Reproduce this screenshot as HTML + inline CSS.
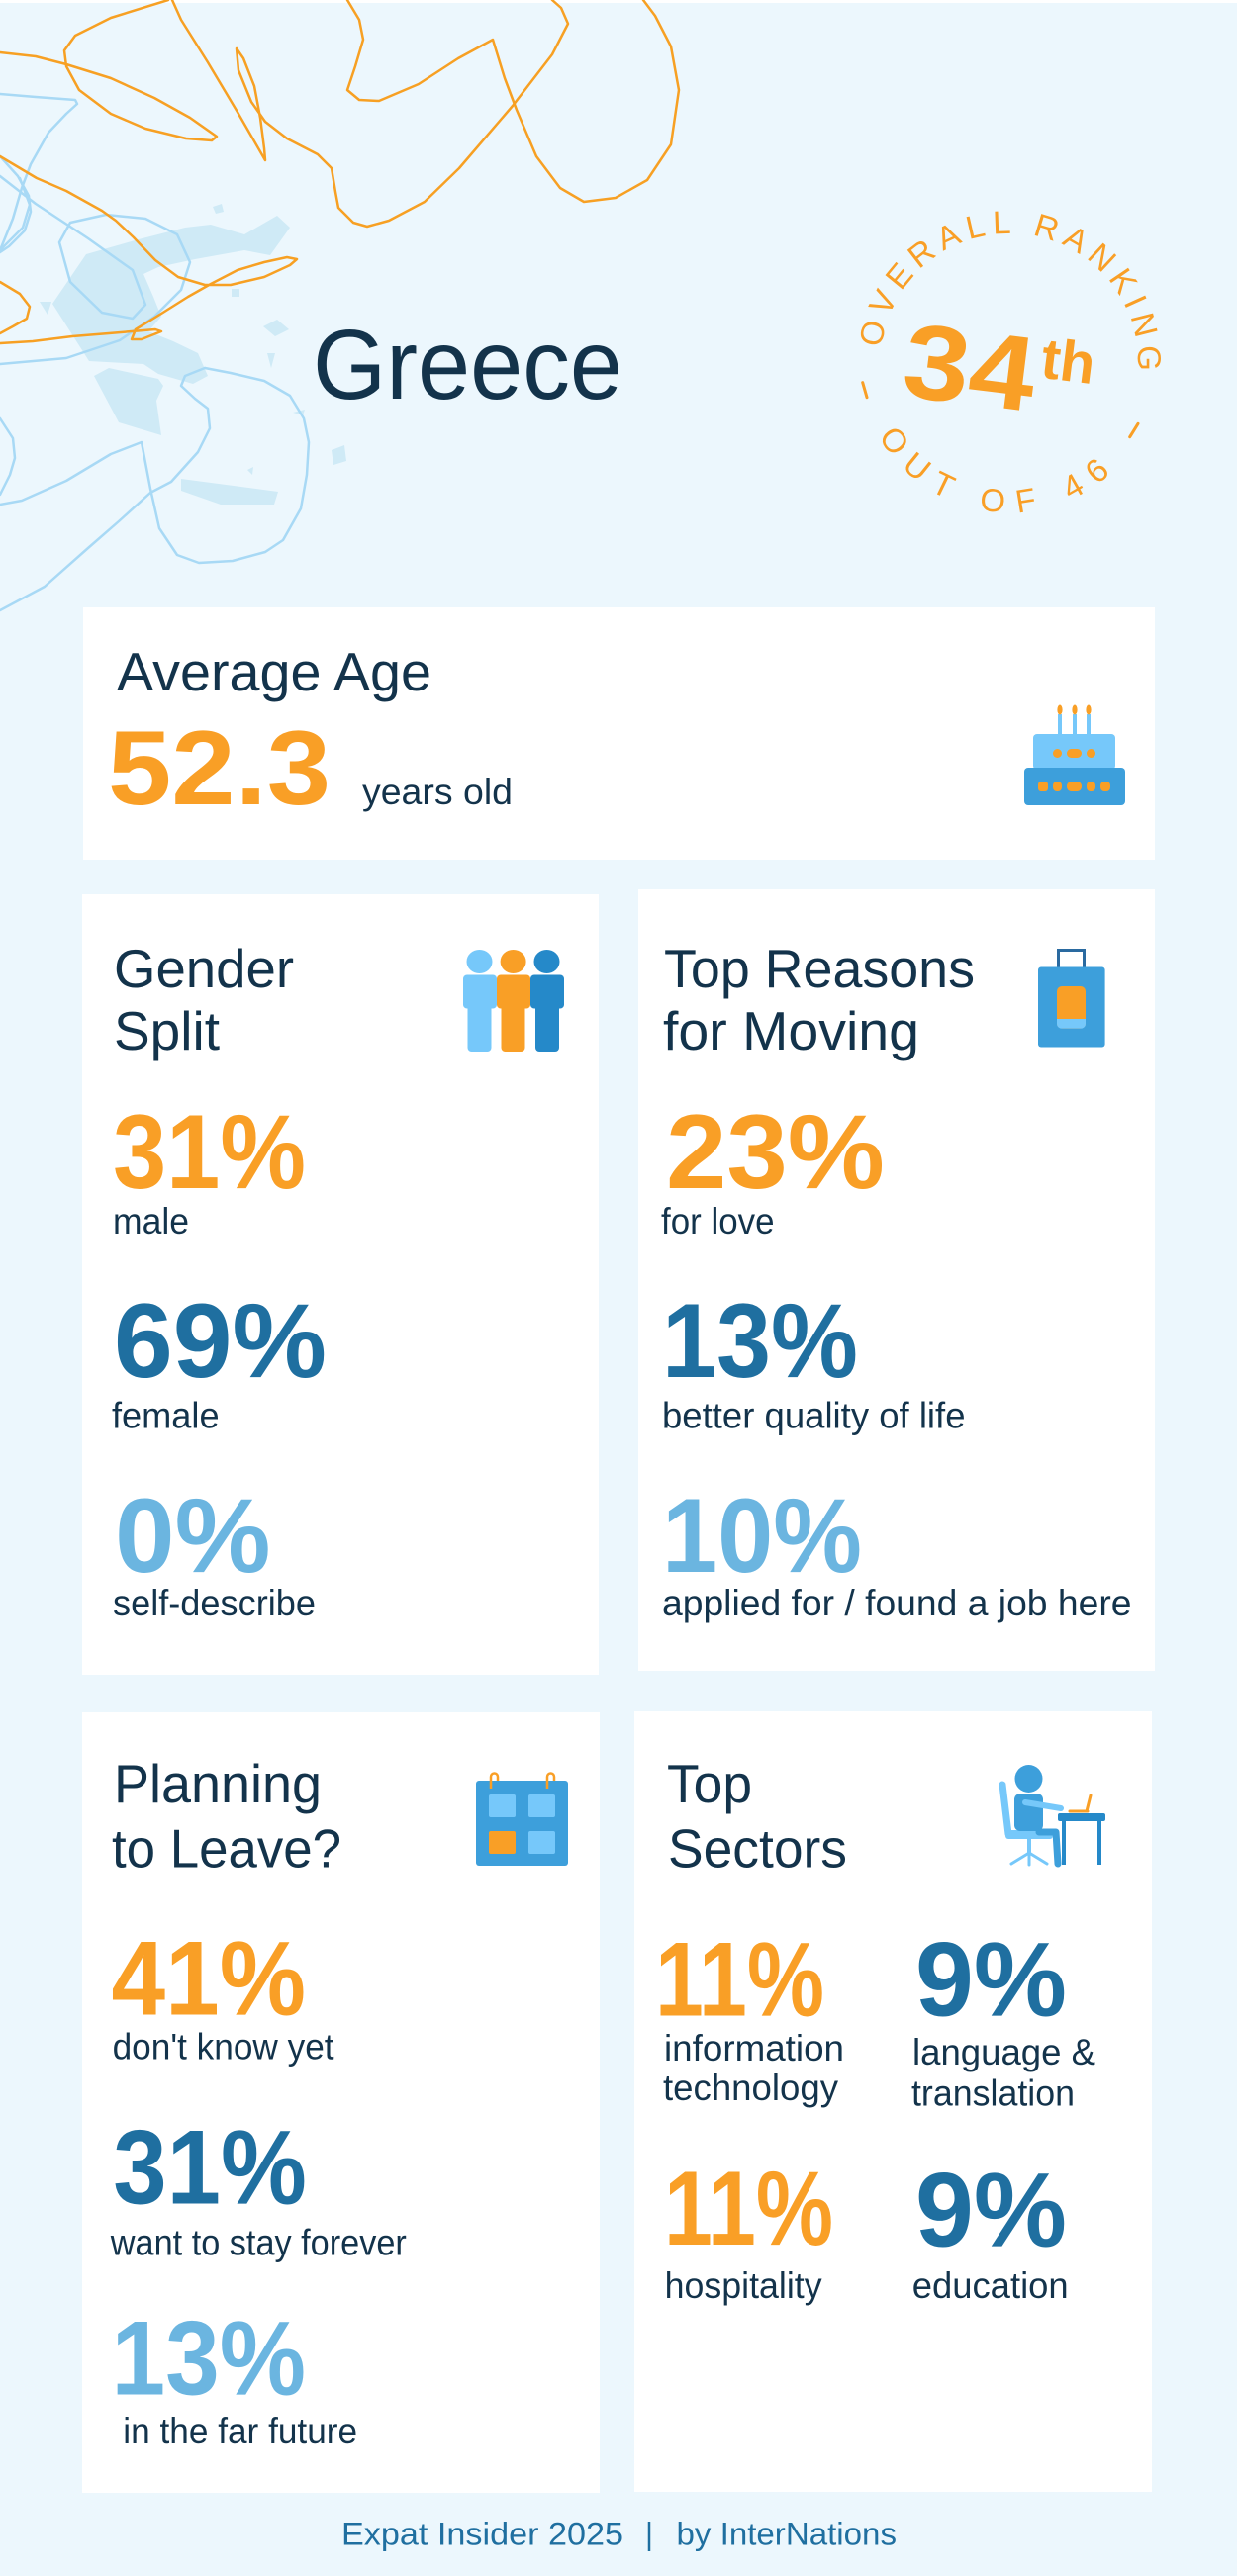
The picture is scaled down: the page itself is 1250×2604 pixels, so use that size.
<!DOCTYPE html>
<html>
<head>
<meta charset="utf-8">
<style>
  html, body { margin:0; padding:0; background:#ecf7fd; }
  body { width:1250px; height:2604px; overflow:hidden; }
  svg { display:block; }
  text { font-family:"Liberation Sans", sans-serif; }
</style>
</head>
<body>
<svg width="1250" height="2604" viewBox="0 0 1250 2604" xmlns="http://www.w3.org/2000/svg">
  <defs>
    <path id="topArc" d="M890,366 A130,130 0 0 1 1150,366"/>
    <path id="botArc" d="M868,366 A152,152 0 0 0 1172,366"/>
  </defs>

  <!-- background -->
  <rect x="0" y="0" width="1250" height="2604" fill="#ecf7fd"/>
  <rect x="0" y="0" width="1250" height="3" fill="#ffffff"/>

  <!-- map of Greece (light) -->
  <g fill="#cfeaf6">
    <polygon points="53,307 87,257 140,242 187,230 213,227 247,237 280,218 293,230 273,258 247,253 197,262 160,270 145,277 155,300 163,320 150,335 175,345 200,357 210,380 195,388 160,378 145,368 90,365"/>
    <polygon points="95,380 110,372 160,383 165,390 158,405 163,440 120,427"/>
    <polygon points="183,484 281,497 277,510 223,510 183,496"/>
    <polygon points="266,330 280,323 292,333 278,340"/>
    <polygon points="335,455 348,450 350,466 337,470"/>
    <polygon points="234,292 242,292 242,300 234,300"/>
    <polygon points="40,305 52,305 48,318"/>
    <polygon points="270,357 278,357 274,372"/>
    <polygon points="215,209 224,206 226,214 218,216"/>
    <polygon points="296,417 308,414 306,420"/>
    <polygon points="250,475 256,472 255,480"/>
  </g>

  <!-- decorative curves -->
  <g fill="none" stroke-linejoin="round" stroke-linecap="round" stroke-width="2.5">
    <g stroke="#a8d9f5">
      <path d="M0,95 L36,98 L76,101 L78,105 L67,115 L49,134 L31,166 L22,190 L13,221 L0,253"/>
      <path d="M0,158 L18,178 L29,198 L31,214 L25,233 L9,249 L0,255"/>
      <path d="M20,180 L30,207 L23,230 L0,253"/>
      <path d="M0,178 L36,206 L89,241 L134,273 L147,308 L134,322 L103,316 L71,285 L60,245 L71,225 L107,217 L147,221 L179,237 L192,265 L183,293 L156,320 L121,344 L67,362 L0,368"/>
      <path d="M207,372 L187,380 L183,390 L197,403 L210,413 L212,433 L200,457 L173,487 L152,498 L120,527 L89,554 L45,593 L0,617"/>
      <path d="M207,372 L233,377 L267,385 L293,400 L307,423 L312,447 L310,480 L304,514 L286,546 L268,558 L235,567 L201,569 L179,561 L161,534 L152,494 L143,447 L112,459 L67,486 L22,506 L0,510"/>
      <path d="M0,423 L13,443 L15,463 L10,480 L0,500"/>
    </g>
    <g stroke="#f7a023">
      <path d="M0,53 L36,57 L67,65 L112,79 L156,99 L192,119 L219,138 L214,142 L188,140 L147,130 L112,115 L80,91 L67,67 L65,51 L76,36 L112,18 L170,0"/>
      <path d="M174,0 L183,20 L210,63 L241,115 L268,162 L267,150 L263,119 L257,87 L246,59 L239,49 L241,71 L254,103 L268,123 L290,140 L321,156 L335,170 L339,194 L342,210 L357,225 L371,229 L393,223 L429,204 L464,170 L518,107 L558,55 L574,24 L567,8 L558,0"/>
      <path d="M351,0 L363,20 L367,40 L359,67 L351,91 L363,101 L383,102 L423,85 L463,59 L498,40 L510,79 L522,111 L542,158 L566,190 L590,204 L622,200 L654,182 L678,146 L686,91 L678,47 L662,16 L650,0"/>
      <path d="M0,158 L37,180 L67,193 L103,213 L117,223 L135,240 L157,263 L180,280 L207,288 L233,288 L267,280 L293,268 L300,262 L290,260 L267,265 L240,273 L213,287 L190,300 L163,317 L137,333 L133,343 L143,343 L163,335 L157,333 L110,337 L73,340 L33,345 L0,347"/>
      <path d="M0,285 L20,297 L30,310 L27,322 L13,330 L0,337"/>
    </g>
  </g>

  <!-- title -->
  <text x="316" y="403" font-size="100" fill="#13334b" textLength="313" lengthAdjust="spacingAndGlyphs">Greece</text>

  <!-- ranking badge -->
  <g fill="#f99f26">
    <g transform="rotate(6.5 1020 366)">
      <text font-size="33" style="letter-spacing:6.6px" text-anchor="middle"><textPath href="#topArc" startOffset="50%">OVERALL RANKING</textPath></text>
      <text font-size="33" style="letter-spacing:12.8px" text-anchor="middle"><textPath href="#botArc" startOffset="50%">OUT OF 46</textPath></text>
    </g>
    <g transform="rotate(7 1020 366)">
      <text x="914.5" y="413" font-size="107" font-weight="bold" textLength="133" lengthAdjust="spacingAndGlyphs">34</text>
      <text x="1052" y="377.7" font-size="58" font-weight="bold" textLength="54" lengthAdjust="spacingAndGlyphs">th</text>
    </g>
  </g>
  <g stroke="#f99f26" stroke-width="3" stroke-linecap="round">
    <line x1="871.7" y1="386.7" x2="876" y2="401.7"/>
    <line x1="1150" y1="428.3" x2="1141.7" y2="441.7"/>
  </g>

  <!-- cards -->
  <g fill="#ffffff">
    <rect x="84" y="614" width="1083" height="255"/>
    <rect x="83" y="904" width="522" height="789"/>
    <rect x="645" y="899" width="522" height="790"/>
    <rect x="83" y="1731" width="523" height="789"/>
    <rect x="641" y="1730" width="523" height="789"/>
  </g>

  <!-- Average age card -->
  <text x="118" y="698" font-size="55" fill="#13334b" textLength="318" lengthAdjust="spacingAndGlyphs">Average Age</text>
  <text x="109" y="813" font-size="107" font-weight="bold" fill="#f99f26" textLength="225" lengthAdjust="spacingAndGlyphs">52.3</text>
  <text x="366" y="813" font-size="37" fill="#13334b" textLength="152" lengthAdjust="spacingAndGlyphs">years old</text>
  <!-- cake icon -->
  <g>
    <rect x="1069" y="722" width="4" height="21" fill="#76c8fa"/>
    <rect x="1084" y="722" width="4" height="21" fill="#76c8fa"/>
    <rect x="1098" y="722" width="4" height="21" fill="#76c8fa"/>
    <ellipse cx="1071" cy="717.5" rx="2.6" ry="5" fill="#f99f26"/>
    <ellipse cx="1086" cy="717.5" rx="2.6" ry="5" fill="#f99f26"/>
    <ellipse cx="1100" cy="717.5" rx="2.6" ry="5" fill="#f99f26"/>
    <rect x="1044" y="742" width="83" height="36" rx="4" fill="#76c8fa"/>
    <rect x="1035" y="776" width="102" height="38" rx="4" fill="#3d9fdb"/>
    <rect x="1064" y="757" width="9" height="9" rx="4.5" fill="#f99f26"/>
    <rect x="1078" y="757" width="15" height="9" rx="4.5" fill="#f99f26"/>
    <rect x="1098" y="757" width="9" height="9" rx="4.5" fill="#f99f26"/>
    <rect x="1049" y="790" width="10" height="10" rx="3" fill="#f99f26"/>
    <rect x="1064" y="790" width="9" height="10" rx="4" fill="#f99f26"/>
    <rect x="1078" y="790" width="15" height="10" rx="4.5" fill="#f99f26"/>
    <rect x="1098" y="790" width="9" height="10" rx="4" fill="#f99f26"/>
    <rect x="1112" y="790" width="10" height="10" rx="4" fill="#f99f26"/>
  </g>

  <!-- Gender card -->
  <text x="115" y="998" font-size="55" fill="#13334b" textLength="182" lengthAdjust="spacingAndGlyphs">Gender</text>
  <text x="115" y="1061" font-size="55" fill="#13334b" textLength="107" lengthAdjust="spacingAndGlyphs">Split</text>
  <text x="114" y="1201" font-size="107" font-weight="bold" fill="#f99f26" textLength="195" lengthAdjust="spacingAndGlyphs">31%</text>
  <text x="114" y="1247" font-size="37" fill="#13334b" textLength="77" lengthAdjust="spacingAndGlyphs">male</text>
  <text x="115" y="1392" font-size="107" font-weight="bold" fill="#1f6fa0" textLength="215" lengthAdjust="spacingAndGlyphs">69%</text>
  <text x="113" y="1443.6" font-size="37" fill="#13334b" textLength="108.6" lengthAdjust="spacingAndGlyphs">female</text>
  <text x="116" y="1589" font-size="107" font-weight="bold" fill="#6bb5e0" textLength="157.5" lengthAdjust="spacingAndGlyphs">0%</text>
  <text x="114" y="1633" font-size="37" fill="#13334b" textLength="205" lengthAdjust="spacingAndGlyphs">self-describe</text>
  <!-- people icon -->
  <g>
    <ellipse cx="484.5" cy="972" rx="13" ry="12" fill="#76c8fa"/>
    <rect x="468" y="985.5" width="34" height="34" rx="4" fill="#76c8fa"/>
    <rect x="472.5" y="1012" width="24" height="51" rx="4" fill="#76c8fa"/>
    <ellipse cx="552.5" cy="972" rx="13" ry="12" fill="#2589c9"/>
    <rect x="536" y="985.5" width="34" height="34" rx="4" fill="#2589c9"/>
    <rect x="541" y="1012" width="24" height="51" rx="4" fill="#2589c9"/>
    <ellipse cx="518.6" cy="972" rx="13" ry="12" fill="#f99f26"/>
    <rect x="502" y="985.5" width="34" height="34" rx="4" fill="#f99f26"/>
    <rect x="506.5" y="1012" width="24" height="51" rx="4" fill="#f99f26"/>
  </g>

  <!-- Reasons card -->
  <text x="671" y="998" font-size="55" fill="#13334b" textLength="314" lengthAdjust="spacingAndGlyphs">Top Reasons</text>
  <text x="670" y="1061" font-size="55" fill="#13334b" textLength="259" lengthAdjust="spacingAndGlyphs">for Moving</text>
  <text x="673" y="1201" font-size="107" font-weight="bold" fill="#f99f26" textLength="221" lengthAdjust="spacingAndGlyphs">23%</text>
  <text x="668" y="1247" font-size="37" fill="#13334b" textLength="114.5" lengthAdjust="spacingAndGlyphs">for love</text>
  <text x="669" y="1392" font-size="107" font-weight="bold" fill="#1f6fa0" textLength="198" lengthAdjust="spacingAndGlyphs">13%</text>
  <text x="669" y="1443.6" font-size="37" fill="#13334b" textLength="306.5" lengthAdjust="spacingAndGlyphs">better quality of life</text>
  <text x="669" y="1589" font-size="107" font-weight="bold" fill="#6bb5e0" textLength="202" lengthAdjust="spacingAndGlyphs">10%</text>
  <text x="669" y="1633" font-size="37" fill="#13334b" textLength="474.5" lengthAdjust="spacingAndGlyphs">applied for / found a job here</text>
  <!-- suitcase icon -->
  <g>
    <rect x="1069.5" y="960.5" width="26" height="19" fill="none" stroke="#2a6aa0" stroke-width="3"/>
    <rect x="1049" y="977.5" width="67.6" height="81" rx="3" fill="#3d9fdb"/>
    <rect x="1068" y="997" width="29" height="42.6" rx="5" fill="#f99f26"/>
    <path d="M1068,1030 H1097 V1035 A4.6,4.6 0 0 1 1092.4,1039.6 H1072.6 A4.6,4.6 0 0 1 1068,1035 Z" fill="#76c8fa"/>
  </g>

  <!-- Planning card -->
  <text x="115" y="1822" font-size="55" fill="#13334b" textLength="210" lengthAdjust="spacingAndGlyphs">Planning</text>
  <text x="113" y="1887.5" font-size="55" fill="#13334b" textLength="232" lengthAdjust="spacingAndGlyphs">to Leave?</text>
  <text x="112.5" y="2036.4" font-size="107" font-weight="bold" fill="#f99f26" textLength="196.5" lengthAdjust="spacingAndGlyphs">41%</text>
  <text x="113.6" y="2081.4" font-size="37" fill="#13334b" textLength="224" lengthAdjust="spacingAndGlyphs">don't know yet</text>
  <text x="114.3" y="2227.7" font-size="107" font-weight="bold" fill="#1f6fa0" textLength="195.7" lengthAdjust="spacingAndGlyphs">31%</text>
  <text x="111.8" y="2279.6" font-size="37" fill="#13334b" textLength="299" lengthAdjust="spacingAndGlyphs">want to stay forever</text>
  <text x="112.5" y="2420.5" font-size="107" font-weight="bold" fill="#6bb5e0" textLength="196.5" lengthAdjust="spacingAndGlyphs">13%</text>
  <text x="124.3" y="2469.8" font-size="37" fill="#13334b" textLength="236.8" lengthAdjust="spacingAndGlyphs">in the far future</text>
  <!-- calendar icon -->
  <g>
    <rect x="481" y="1800" width="93" height="86" rx="3" fill="#3d9fdb"/>
    <path d="M496,1808 V1796 A3.5,3.5 0 0 1 503,1796 V1800" fill="none" stroke="#f99f26" stroke-width="2.5"/>
    <path d="M553,1808 V1796 A3.5,3.5 0 0 1 560,1796 V1800" fill="none" stroke="#f99f26" stroke-width="2.5"/>
    <rect x="494" y="1814" width="27" height="23" rx="2" fill="#76c8fa"/>
    <rect x="534" y="1814" width="27" height="23" rx="2" fill="#76c8fa"/>
    <rect x="494" y="1851" width="27" height="23" rx="2" fill="#f99f26"/>
    <rect x="534" y="1851" width="27" height="23" rx="2" fill="#76c8fa"/>
  </g>

  <!-- Sectors card -->
  <text x="674" y="1822" font-size="55" fill="#13334b" textLength="86" lengthAdjust="spacingAndGlyphs">Top</text>
  <text x="675" y="1887.5" font-size="55" fill="#13334b" textLength="181" lengthAdjust="spacingAndGlyphs">Sectors</text>
  <text x="662" y="2037.5" font-size="107" font-weight="bold" fill="#f99f26" textLength="171" lengthAdjust="spacingAndGlyphs">11%</text>
  <text x="671" y="2083" font-size="37" fill="#13334b" textLength="182" lengthAdjust="spacingAndGlyphs">information</text>
  <text x="670" y="2123" font-size="37" fill="#13334b" textLength="177" lengthAdjust="spacingAndGlyphs">technology</text>
  <text x="925" y="2037.5" font-size="107" font-weight="bold" fill="#1f6fa0" textLength="153" lengthAdjust="spacingAndGlyphs">9%</text>
  <text x="922" y="2087" font-size="37" fill="#13334b" textLength="185" lengthAdjust="spacingAndGlyphs">language &amp;</text>
  <text x="921" y="2128.6" font-size="37" fill="#13334b" textLength="165" lengthAdjust="spacingAndGlyphs">translation</text>
  <text x="671" y="2269" font-size="107" font-weight="bold" fill="#f99f26" textLength="171" lengthAdjust="spacingAndGlyphs">11%</text>
  <text x="671.6" y="2323" font-size="37" fill="#13334b" textLength="159" lengthAdjust="spacingAndGlyphs">hospitality</text>
  <text x="925" y="2270.5" font-size="107" font-weight="bold" fill="#1f6fa0" textLength="153" lengthAdjust="spacingAndGlyphs">9%</text>
  <text x="921.7" y="2323" font-size="37" fill="#13334b" textLength="158" lengthAdjust="spacingAndGlyphs">education</text>
  <!-- desk icon -->
  <g stroke-linecap="round">
    <line x1="1013" y1="1804" x2="1019" y2="1854" stroke="#76c8fa" stroke-width="7"/>
    <rect x="1016" y="1850" width="48" height="9" rx="3" fill="#76c8fa"/>
    <rect x="1038" y="1858" width="4" height="15" fill="#76c8fa"/>
    <line x1="1040" y1="1873" x2="1022" y2="1884" stroke="#76c8fa" stroke-width="3"/>
    <line x1="1040" y1="1873" x2="1058" y2="1884" stroke="#76c8fa" stroke-width="3"/>
    <line x1="1040" y1="1873" x2="1040" y2="1885" stroke="#76c8fa" stroke-width="3"/>
    <rect x="1025" y="1813" width="29" height="38" rx="6" fill="#3d9fdb"/>
    <circle cx="1039.5" cy="1798" r="14" fill="#3d9fdb"/>
    <line x1="1036" y1="1822" x2="1072" y2="1828" stroke="#76c8fa" stroke-width="6"/>
    <path d="M1050,1852 H1067 L1069,1884" fill="none" stroke="#3d9fdb" stroke-width="7" stroke-linejoin="round"/>
    <rect x="1069" y="1833" width="48" height="8" rx="2" fill="#2589c9"/>
    <rect x="1073" y="1840" width="4" height="45" fill="#2589c9"/>
    <rect x="1109" y="1840" width="4" height="45" fill="#2589c9"/>
    <line x1="1081" y1="1831" x2="1099" y2="1831" stroke="#f99f26" stroke-width="3"/>
    <line x1="1098" y1="1831" x2="1102" y2="1815" stroke="#f99f26" stroke-width="3"/>
  </g>

  <!-- footer -->
  <text x="345" y="2572.7" font-size="32" fill="#1f6fa0" textLength="285" lengthAdjust="spacingAndGlyphs">Expat Insider 2025</text>
  <line x1="656" y1="2549" x2="656" y2="2579" stroke="#1f6fa0" stroke-width="2.5"/>
  <text x="683.5" y="2572.7" font-size="32" fill="#1f6fa0" textLength="222.5" lengthAdjust="spacingAndGlyphs">by InterNations</text>
</svg>
</body>
</html>
